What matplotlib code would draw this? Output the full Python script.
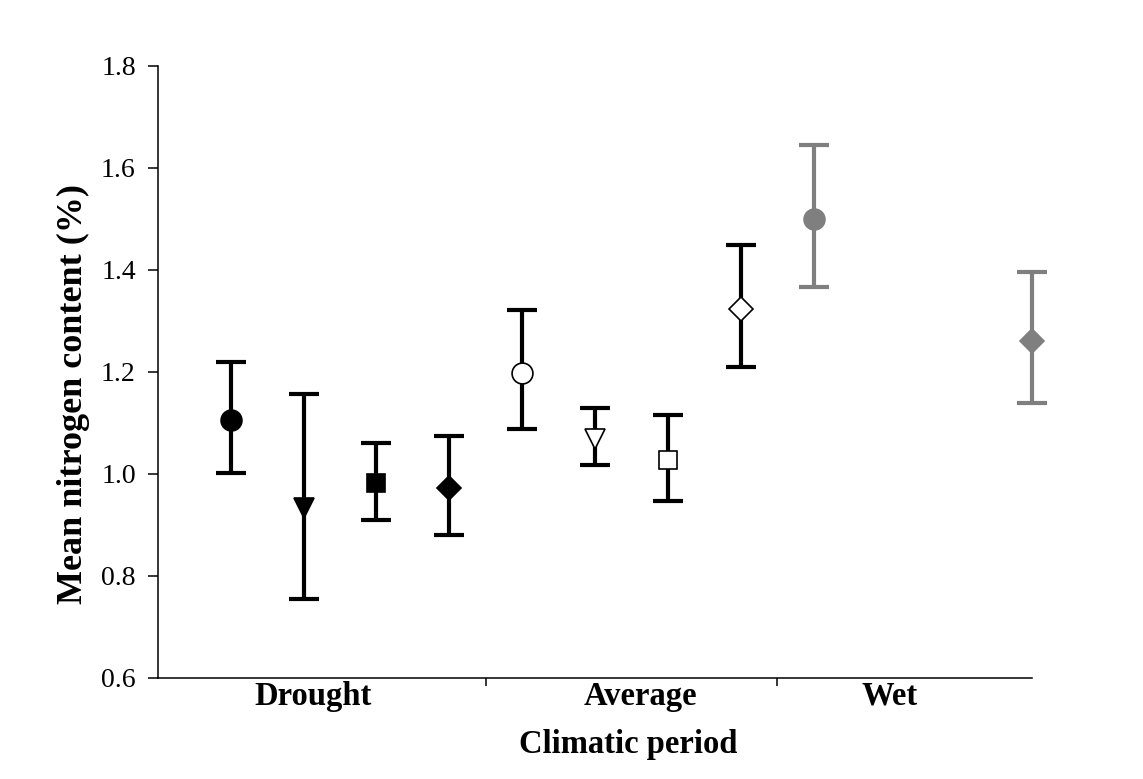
import matplotlib.pyplot as plt

plt.rcParams['font.family'] = ['Liberation Serif', 'DejaVu Serif']

# positions along the x axis (1 unit per slot)
pos = [1, 2, 3, 4, 5, 6, 7, 8, 9, 12]
means = [1.106, 0.933, 0.982, 0.973, 1.198, 1.069, 1.027, 1.324, 1.500, 1.261]
upper = [1.220, 1.157, 1.061, 1.075, 1.322, 1.129, 1.116, 1.449, 1.645, 1.396]
lower = [1.002, 0.755, 0.910, 0.880, 1.088, 1.018, 0.947, 1.210, 1.367, 1.139]
markers = ['o', 'v', 's', 'D', 'o', 'v', 's', 'D', 'o', 'D']
sizes = [15, 15, 13, 12, 15, 15, 13, 12, 15, 12]
faces = ['black'] * 4 + ['white'] * 4 + ['#7f7f7f'] * 2
colors = ['black'] * 8 + ['#7f7f7f'] * 2

periods = ['Drought', 'Average', 'Wet']
period_pos = [2.13, 6.63, 10.04]
separators = [4.5, 8.5]
yticks = [0.6, 0.8, 1.0, 1.2, 1.4, 1.6, 1.8]

fig = plt.figure(figsize=(11.43, 7.79), dpi=100)
ax = fig.add_axes([0.1382, 0.1297, 0.7647, 0.7856])

for i in range(len(pos)):
    err = [[means[i] - lower[i]], [upper[i] - means[i]]]
    ax.errorbar(pos[i], means[i], yerr=err, fmt='none', ecolor=colors[i],
                elinewidth=3, capsize=11, capthick=3, zorder=2, clip_on=False)
    ax.plot(pos[i], means[i], marker=markers[i], markersize=sizes[i],
            markerfacecolor=faces[i], markeredgecolor=colors[i],
            markeredgewidth=1.2, linestyle='none', zorder=3, clip_on=False)

ax.set_xlim(0, 12)
ax.set_ylim(0.6, 1.8)
ax.set_yticks(yticks)
ax.set_yticklabels([f'{v:.1f}' for v in yticks])
ax.set_xticks(separators)
ax.set_xticklabels([])
ax.set_xticks(period_pos, minor=True)
ax.set_xticklabels(periods, minor=True, fontsize=23.5, fontweight='bold')
ax.tick_params(axis='x', which='minor', length=0, pad=2)
ax.tick_params(axis='x', which='major', length=6, width=1.1, direction='out')
ax.tick_params(axis='y', length=7, width=1.1, direction='out', labelsize=20, pad=9)

for s in ['top', 'right']:
    ax.spines[s].set_visible(False)
for s in ['left', 'bottom']:
    ax.spines[s].set_linewidth(1.1)

fig.text(628 / 1143, 1 - 753 / 779, 'Climatic period', fontsize=23.5,
         fontweight='bold', ha='center', va='baseline')
fig.text(73 / 1143, 1 - 394 / 779, 'Mean nitrogen content (%)', fontsize=26,
         fontweight='bold', rotation=90, ha='center', va='center')

fig.savefig('out.png', dpi=100)
